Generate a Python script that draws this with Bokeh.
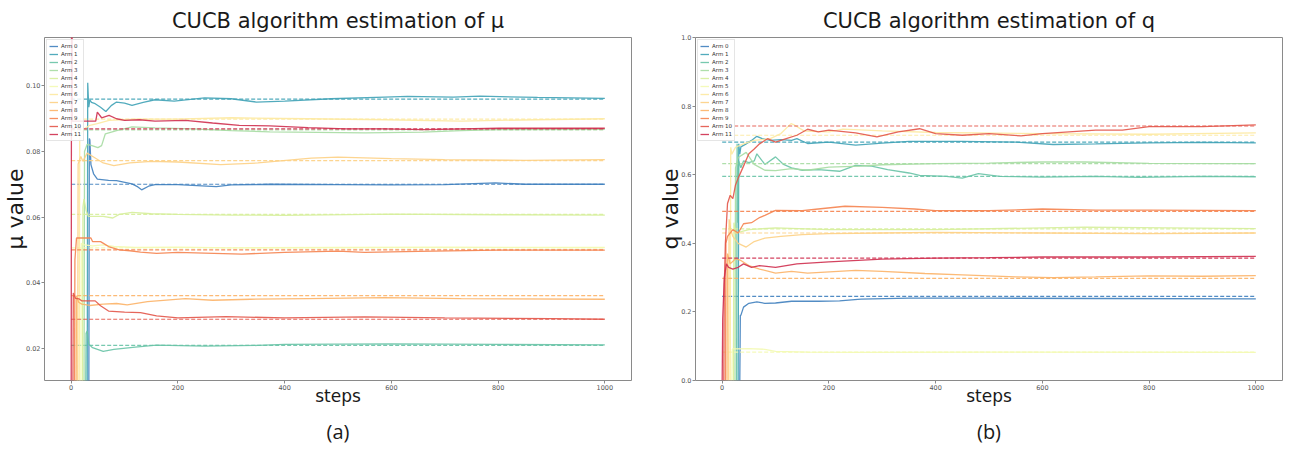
from bokeh.plotting import figure
from bokeh.layouts import row
from bokeh.models import Legend, LegendItem, Title, FixedTicker, Range1d
from bokeh.embed import file_html
from bokeh.resources import INLINE

# ---------------- data ----------------
ARM_LABELS = ["Arm %d" % i for i in range(12)]
COLORS = ["#3f7fbe", "#3fa2b6", "#68c3a6", "#a6dba2", "#d6ee9b", "#f3f9b3",
          "#fde9a0", "#fdd084", "#fcb367", "#f5834f", "#e35549", "#cf2f4f"]
HORIZON = [0, 1000]
X_TICKS = [0, 200, 400, 600, 800, 1000]

MU_TICKS = [0.02, 0.04, 0.06, 0.08, 0.10]
MU_TICK_LABELS = ["0.02", "0.04", "0.06", "0.08", "0.10"]
Q_TICKS = [0.0, 0.2, 0.4, 0.6, 0.8, 1.0]
Q_TICK_LABELS = ["0.0", "0.2", "0.4", "0.6", "0.8", "1.0"]

MU_TRUE = [0.0700, 0.0960, 0.0208, 0.0866, 0.0608, 0.0506, 0.0899, 0.0772, 0.0360, 0.0500, 0.0288, 0.0869]
Q_TRUE = [0.245, 0.695, 0.595, 0.632, 0.442, 0.083, 0.715, 0.430, 0.298, 0.493, 0.742, 0.357]

# mu estimates (steps, values) per arm
mu_arm0_x = [33, 34, 35, 37, 42, 49, 70, 85, 114, 125, 132, 145, 157, 200, 272, 300, 372, 500, 600, 700, 795, 850, 1000]
mu_arm0_y = [0.0, 0.084, 0.0835, 0.0760, 0.0732, 0.0716, 0.0712, 0.0711, 0.0701, 0.0692, 0.0683, 0.0694, 0.0699, 0.0699, 0.0693, 0.0698, 0.0700, 0.0699, 0.0698, 0.0699, 0.0704, 0.0700, 0.0700]
mu_arm1_x = [30, 31, 32, 33, 35, 38, 45, 55, 65, 75, 85, 100, 114, 135, 157, 193, 250, 300, 347, 400, 487, 587, 630, 716, 766, 874, 1000]
mu_arm1_y = [0.0, 0.101, 0.097, 0.0935, 0.0958, 0.0950, 0.0946, 0.0935, 0.0922, 0.0940, 0.0951, 0.0948, 0.0941, 0.0950, 0.0958, 0.0954, 0.0964, 0.0961, 0.0951, 0.0954, 0.0961, 0.0966, 0.0968, 0.0966, 0.0969, 0.0965, 0.0962]
mu_arm2_x = [27, 28, 30, 33, 40, 60, 80, 120, 160, 250, 350, 400, 600, 800, 1000]
mu_arm2_y = [0.0, 0.0245, 0.0252, 0.0212, 0.0201, 0.0190, 0.0196, 0.0203, 0.0209, 0.0206, 0.0208, 0.0211, 0.0213, 0.0211, 0.0210]
mu_arm3_x = [24, 25, 30, 39, 50, 57, 64, 85, 114, 157, 229, 300, 372, 551, 659, 731, 802, 1000]
mu_arm3_y = [0.0, 0.0800, 0.0822, 0.0818, 0.0812, 0.0818, 0.0854, 0.0864, 0.0875, 0.0872, 0.0869, 0.0864, 0.0860, 0.0857, 0.0859, 0.0864, 0.0867, 0.0868]
mu_arm4_x = [21, 22, 24, 28, 32, 60, 78, 90, 114, 150, 200, 300, 400, 600, 800, 1000]
mu_arm4_y = [0.0, 0.0630, 0.0655, 0.0620, 0.0602, 0.0602, 0.0597, 0.0608, 0.0614, 0.0610, 0.0608, 0.0606, 0.0605, 0.0609, 0.0607, 0.0606]
mu_arm5_x = [18, 19, 25, 40, 60, 80, 120, 200, 300, 500, 700, 1000]
mu_arm5_y = [0.0, 0.0520, 0.0515, 0.0512, 0.0515, 0.0510, 0.0507, 0.0508, 0.0506, 0.0507, 0.0508, 0.0507]
mu_arm6_x = [15, 16, 25, 35, 49, 71, 121, 193, 300, 444, 587, 731, 874, 1000]
mu_arm6_y = [0.0, 0.0850, 0.0870, 0.0880, 0.0885, 0.0895, 0.0899, 0.0899, 0.0903, 0.0900, 0.0897, 0.0893, 0.0897, 0.0900]
mu_arm7_x = [12, 13, 18, 22, 30, 45, 60, 80, 110, 150, 200, 280, 350, 450, 500, 600, 700, 850, 1000]
mu_arm7_y = [0.0, 0.0762, 0.0785, 0.0770, 0.0795, 0.0780, 0.0765, 0.0757, 0.0765, 0.0770, 0.0768, 0.0760, 0.0765, 0.0780, 0.0783, 0.0778, 0.0775, 0.0773, 0.0775]
mu_arm8_x = [9, 10, 14, 20, 35, 60, 85, 105, 143, 214, 265, 336, 444, 587, 731, 1000]
mu_arm8_y = [0.0, 0.0360, 0.0340, 0.0334, 0.0330, 0.0334, 0.0336, 0.0332, 0.0342, 0.0351, 0.0346, 0.0349, 0.0351, 0.0354, 0.0351, 0.0349]
mu_arm9_x = [6, 7, 10, 37, 40, 55, 62, 70, 90, 110, 130, 160, 200, 250, 320, 400, 500, 550, 650, 800, 1000]
mu_arm9_y = [0.0, 0.0470, 0.0536, 0.0536, 0.0525, 0.0525, 0.0518, 0.0510, 0.0500, 0.0497, 0.0493, 0.0489, 0.0492, 0.0490, 0.0487, 0.0492, 0.0496, 0.0492, 0.0495, 0.0499, 0.0499]
mu_arm10_x = [3, 4, 8, 15, 20, 45, 55, 70, 100, 130, 160, 200, 290, 400, 550, 700, 900, 1000]
mu_arm10_y = [0.0, 0.0368, 0.0352, 0.0350, 0.0344, 0.0344, 0.0329, 0.0313, 0.0310, 0.0308, 0.0298, 0.0292, 0.0296, 0.0292, 0.0295, 0.0292, 0.0290, 0.0288]
mu_arm11_x = [0, 1, 2, 28, 46, 49, 57, 71, 85, 100, 128, 157, 214, 265, 315, 372, 444, 515, 587, 659, 802, 1000]
mu_arm11_y = [0.0, 0.2, 0.0893, 0.0893, 0.0893, 0.0920, 0.0903, 0.0910, 0.0900, 0.0895, 0.0897, 0.0893, 0.0895, 0.0887, 0.0880, 0.0878, 0.0873, 0.0869, 0.0869, 0.0867, 0.0871, 0.0871]

# q estimates (steps, values) per arm
q_arm0_x = [33, 34, 35, 40, 50, 65, 80, 100, 130, 180, 220, 260, 350, 500, 700, 1000]
q_arm0_y = [0.0, 0.19, 0.19, 0.214, 0.225, 0.229, 0.225, 0.226, 0.231, 0.231, 0.232, 0.237, 0.240, 0.240, 0.239, 0.238]
q_arm1_x = [30, 31, 33, 35, 45, 55, 65, 75, 90, 110, 130, 140, 160, 200, 250, 300, 350, 450, 550, 620, 700, 800, 900, 1000]
q_arm1_y = [0.0, 0.69, 0.66, 0.681, 0.690, 0.700, 0.712, 0.705, 0.700, 0.702, 0.700, 0.705, 0.691, 0.695, 0.686, 0.692, 0.697, 0.697, 0.695, 0.688, 0.690, 0.693, 0.694, 0.693]
q_arm2_x = [27, 28, 29, 31, 35, 40, 50, 60, 65, 80, 100, 115, 130, 150, 180, 220, 250, 280, 310, 350, 370, 420, 450, 480, 520, 600, 700, 780, 900, 1000]
q_arm2_y = [0.0, 0.69, 0.46, 0.64, 0.62, 0.64, 0.635, 0.64, 0.661, 0.63, 0.652, 0.63, 0.62, 0.613, 0.615, 0.61, 0.627, 0.625, 0.615, 0.605, 0.598, 0.595, 0.590, 0.603, 0.595, 0.593, 0.595, 0.592, 0.595, 0.594]
q_arm3_x = [24, 25, 30, 45, 60, 80, 100, 130, 160, 200, 260, 300, 400, 500, 600, 680, 800, 1000]
q_arm3_y = [0.0, 0.62, 0.65, 0.665, 0.630, 0.613, 0.612, 0.618, 0.613, 0.622, 0.625, 0.629, 0.632, 0.634, 0.637, 0.637, 0.633, 0.632]
q_arm4_x = [21, 22, 25, 50, 100, 200, 400, 680, 1000]
q_arm4_y = [0.0, 0.46, 0.43, 0.44, 0.445, 0.440, 0.440, 0.447, 0.443]
q_arm5_x = [18, 19, 20, 50, 80, 100, 160, 250, 500, 1000]
q_arm5_y = [0.0, 0.090, 0.092, 0.093, 0.091, 0.085, 0.083, 0.082, 0.083, 0.082]
q_arm6_x = [15, 16, 18, 25, 40, 60, 90, 110, 129, 135, 154, 200, 226, 300, 400, 600, 800, 1000]
q_arm6_y = [0.0, 0.68, 0.66, 0.68, 0.69, 0.70, 0.705, 0.72, 0.749, 0.745, 0.727, 0.725, 0.733, 0.728, 0.723, 0.720, 0.718, 0.722]
q_arm7_x = [12, 13, 16, 20, 30, 45, 60, 80, 110, 150, 200, 300, 400, 600, 800, 1000]
q_arm7_y = [0.0, 0.47, 0.44, 0.42, 0.40, 0.389, 0.405, 0.415, 0.420, 0.425, 0.428, 0.430, 0.432, 0.430, 0.428, 0.430]
q_arm8_x = [9, 10, 15, 25, 35, 50, 70, 100, 130, 160, 250, 300, 380, 450, 550, 620, 700, 800, 900, 1000]
q_arm8_y = [0.0, 0.37, 0.34, 0.355, 0.350, 0.335, 0.325, 0.313, 0.318, 0.313, 0.321, 0.318, 0.312, 0.308, 0.302, 0.300, 0.302, 0.305, 0.304, 0.306]
q_arm9_x = [6, 7, 10, 20, 30, 40, 55, 70, 80, 100, 150, 180, 230, 300, 360, 400, 500, 600, 700, 800, 900, 1000]
q_arm9_y = [0.0, 0.40, 0.42, 0.44, 0.43, 0.457, 0.46, 0.475, 0.4815, 0.496, 0.495, 0.50, 0.508, 0.505, 0.50, 0.495, 0.495, 0.50, 0.497, 0.497, 0.496, 0.495]
q_arm10_x = [3, 4, 6, 10, 15, 20, 25, 30, 40, 50, 60, 70, 85, 100, 120, 140, 160, 180, 200, 250, 290, 330, 370, 400, 450, 500, 560, 600, 650, 700, 750, 800, 900, 1000]
q_arm10_y = [0.0, 0.28, 0.40, 0.516, 0.54, 0.53, 0.57, 0.59, 0.625, 0.661, 0.675, 0.69, 0.705, 0.695, 0.705, 0.715, 0.7325, 0.725, 0.73, 0.722, 0.710, 0.725, 0.734, 0.72, 0.715, 0.72, 0.713, 0.72, 0.725, 0.73, 0.73, 0.74, 0.74, 0.745]
q_arm11_x = [0, 1, 4, 8, 12, 20, 30, 40, 55, 70, 100, 140, 200, 300, 400, 500, 600, 800, 1000]
q_arm11_y = [0.0, 0.18, 0.30, 0.34, 0.33, 0.325, 0.33, 0.34, 0.33, 0.335, 0.33, 0.34, 0.346, 0.354, 0.357, 0.358, 0.36, 0.36, 0.362]

MU_X = [mu_arm0_x, mu_arm1_x, mu_arm2_x, mu_arm3_x, mu_arm4_x, mu_arm5_x,
        mu_arm6_x, mu_arm7_x, mu_arm8_x, mu_arm9_x, mu_arm10_x, mu_arm11_x]
MU_Y = [mu_arm0_y, mu_arm1_y, mu_arm2_y, mu_arm3_y, mu_arm4_y, mu_arm5_y,
        mu_arm6_y, mu_arm7_y, mu_arm8_y, mu_arm9_y, mu_arm10_y, mu_arm11_y]
Q_X = [q_arm0_x, q_arm1_x, q_arm2_x, q_arm3_x, q_arm4_x, q_arm5_x,
       q_arm6_x, q_arm7_x, q_arm8_x, q_arm9_x, q_arm10_x, q_arm11_x]
Q_Y = [q_arm0_y, q_arm1_y, q_arm2_y, q_arm3_y, q_arm4_y, q_arm5_y,
       q_arm6_y, q_arm7_y, q_arm8_y, q_arm9_y, q_arm10_y, q_arm11_y]

FONT = "DejaVu Sans"
FIG_H = 451


def make_panel(title, ylabel, sub, xs, ys, truth, yr, yticks, ylabels,
               width, bl, br):
    p = figure(width=width, height=FIG_H, output_backend="svg", toolbar_location=None,
               x_range=Range1d(-50, 1050), y_range=Range1d(*yr),
               min_border_left=bl, min_border_right=br,
               min_border_top=37, min_border_bottom=70)
    p.title.text = title
    p.title.align = "center"
    p.title.text_font = FONT
    p.title.text_font_size = "21px"
    p.title.text_font_style = "normal"
    p.title.text_color = "#1a1a1a"
    p.title.standoff = 9
    p.grid.visible = False
    p.outline_line_color = "#8a8a8a"
    p.outline_line_width = 1
    p.background_fill_color = "white"
    p.border_fill_color = "white"
    for ax in (p.xaxis[0], p.yaxis[0]):
        ax.axis_line_color = None
        ax.major_tick_line_color = "#8a8a8a"
        ax.major_tick_out = 3
        ax.major_tick_in = 0
        ax.minor_tick_line_color = None
        ax.major_label_text_font = FONT
        ax.major_label_text_font_size = "6.5px"
        ax.major_label_text_color = "#555555"
        ax.major_label_standoff = 1
        ax.axis_label_text_font = FONT
        ax.axis_label_text_font_style = "normal"
        ax.axis_label_text_color = "#1a1a1a"
    p.xaxis.ticker = FixedTicker(ticks=X_TICKS)
    p.yaxis.ticker = FixedTicker(ticks=yticks)
    p.yaxis.major_label_overrides = {t: l for t, l in zip(yticks, ylabels)}
    p.xaxis.axis_label = "steps"
    p.xaxis.axis_label_text_font_size = "17px"
    p.xaxis.axis_label_standoff = -7
    p.yaxis.axis_label = ylabel
    p.yaxis.axis_label_text_font_size = "22px"
    p.yaxis.axis_label_standoff = -5

    items = []
    for i in range(12):
        r = p.line(xs[i], ys[i], line_color=COLORS[i], line_width=1.3, line_alpha=0.9)
        p.line(HORIZON, [truth[i], truth[i]], line_color=COLORS[i], line_width=1.2,
               line_alpha=0.9, line_dash="4 2")
        items.append(LegendItem(label=ARM_LABELS[i], renderers=[r]))
    leg = Legend(items=items, location="top_left")
    leg.margin = 2
    leg.padding = 2
    leg.spacing = 0
    leg.label_height = 8
    leg.glyph_height = 8
    leg.glyph_width = 9
    leg.label_standoff = 3
    leg.label_text_font = FONT
    leg.label_text_font_size = "5.5px"
    leg.label_text_color = "#333333"
    leg.border_line_color = "#cccccc"
    leg.background_fill_alpha = 0.85
    p.add_layout(leg)

    sub_t = Title(text=sub, align="center", text_font="Open Sans",
                  text_font_size="20px", text_font_style="normal",
                  text_color="#1a1a1a", standoff=14)
    p.add_layout(sub_t, "below")
    return p


p1 = make_panel("CUCB algorithm estimation of μ", "μ value", "(a)", MU_X, MU_Y, MU_TRUE,
                (0.0101, 0.1148), MU_TICKS, MU_TICK_LABELS, 645, 44, 14)
p2 = make_panel("CUCB algorithm estimation of q", "q value", "(b)", Q_X, Q_Y, Q_TRUE,
                (0.0, 1.0), Q_TICKS, Q_TICK_LABELS, 645, 50, 8)

layout = row(p1, p2)
open("out.html", "w").write(file_html(layout, INLINE))
